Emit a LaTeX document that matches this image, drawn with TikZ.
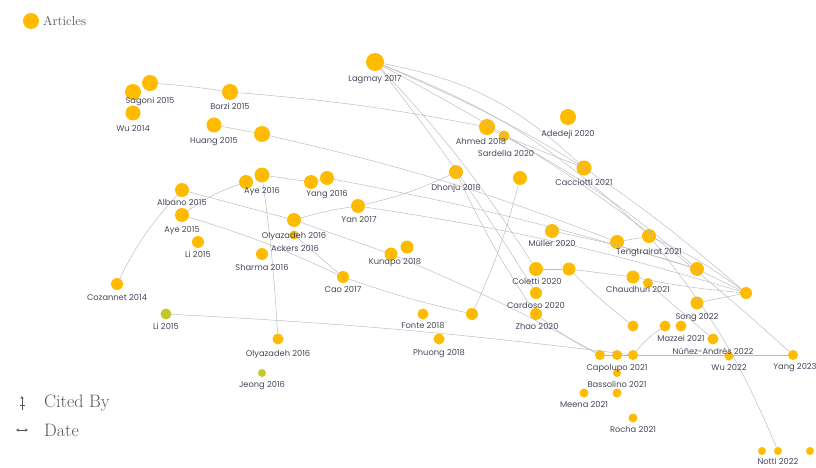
\documentclass[tikz,border=0pt]{standalone}
\usepackage{fontspec}
\newfontfamily\labfont{Poppins}
\usetikzlibrary{arrows.meta}
\definecolor{artcol}{RGB}{255,187,0}
\definecolor{artgreen}{RGB}{196,200,40}
\definecolor{edgecol}{RGB}{185,185,188}
\definecolor{labcol}{RGB}{70,72,92}
\definecolor{legcol}{RGB}{80,84,96}
\tikzset{
  art/.style={circle, fill=artcol, inner sep=0pt, minimum size=#1},
  art/.default=14pt,
  artg/.style={art=#1, fill=artgreen},
  lab/.style={font=\labfont\fontsize{8.3}{9}\selectfont, text=labcol, inner sep=0pt},
  edge/.style={draw=edgecol, line width=0.45pt},
  leg/.style={text=legcol, anchor=west, inner sep=0pt}
}
\begin{document}
\begin{tikzpicture}[x=1pt,y=-1pt]
      \useasboundingbox (0,0) rectangle (816,468);
      % legend
      \node[art=16pt] (legart) at (31,21) {};
      \node[leg, font=\fontsize{13}{14}\selectfont] (legartt) at (43,21) {Articles};
      \coordinate (cbA) at (22,410);
      \coordinate (cbB) at (22,396);
      \coordinate (dtA) at (16,430);
      \coordinate (dtB) at (28,430);
      \draw[legcol, line width=0.8pt, -{Stealth[length=3pt,width=3pt]}] (cbA) -- (cbB);
      \draw[legcol, line width=0.8pt] (19.5,405) -- (24.5,405);
      \draw[legcol, line width=0.8pt, {Stealth[length=3pt,width=3pt]}-{Stealth[length=3pt,width=3pt]}] (dtA) -- (dtB);
      \node[leg, font=\fontsize{18}{19}\selectfont] (legcb) at (44,403) {Cited By};
      \node[leg, font=\fontsize{18}{19}\selectfont] (legdt) at (44,430) {Date};
      % articles
      \node[art=18pt] (lag) at (375,62) {};
      \node[art=16pt] (sag2) at (150,83) {};
      \node[art=16pt] (sag1) at (133,92) {};
      \node[art=15pt] (wu14) at (133,113) {};
      \node[art=16pt] (borzi) at (230,92) {};
      \node[art=15pt] (huang) at (214,125) {};
      \node[art=16pt] (hu2) at (262,134) {};
      \node[art=16pt] (ahmed) at (487,127) {};
      \node[art=11pt] (sard) at (504,136) {};
      \node[art=16pt] (adedeji) at (568,117) {};
      \node[art=15pt] (cacc) at (584,168) {};
      \node[art=14pt] (dhonju) at (456,172) {};
      \node[art=14pt] (n520) at (520,178) {};
      \node[art=14pt] (aye16a) at (246,182) {};
      \node[art=15pt] (aye16b) at (262,175) {};
      \node[art=14pt] (yang16a) at (311,182) {};
      \node[art=14pt] (yang16b) at (327,178) {};
      \node[art=14pt] (yan) at (358,206) {};
      \node[art=14pt] (albano) at (182,190) {};
      \node[art=14pt] (aye15) at (182,215) {};
      \node[art=14pt] (olya) at (294,220) {};
      \node[art=9pt] (ackers) at (294,235) {};
      \node[art=12pt] (li15a) at (198,242) {};
      \node[art=12pt] (sharma) at (262,254) {};
      \node[art=13pt] (kun1) at (391,254) {};
      \node[art=13pt] (kun2) at (407,247) {};
      \node[art=12pt] (cao) at (343,277) {};
      \node[art=12pt] (cozan) at (117,284) {};
      \node[artg=11pt] (li15b) at (166,314) {};
      \node[art=11pt] (fonte) at (423,314) {};
      \node[art=12pt] (n471) at (472,314) {};
      \node[art=11pt] (phuong) at (439,339) {};
      \node[art=11pt] (olyb) at (278,339) {};
      \node[artg=8pt] (jeong) at (262,373) {};
      \node[art=14pt] (muller) at (552,231) {};
      \node[art=14pt] (teng1) at (617,242) {};
      \node[art=14pt] (teng2) at (649,236) {};
      \node[art=14pt] (col1) at (536,269) {};
      \node[art=13pt] (col2) at (569,269) {};
      \node[art=13pt] (chau1) at (633,277) {};
      \node[art=10pt] (chau2) at (648,283) {};
      \node[art=14pt] (n697) at (697,269) {};
      \node[art=12pt] (hub) at (746,293) {};
      \node[art=12pt] (card) at (536,293) {};
      \node[art=12pt] (zhao) at (536,314) {};
      \node[art=13pt] (song) at (697,303) {};
      \node[art=11pt] (maz1) at (633,326) {};
      \node[art=11pt] (maz2) at (665,326) {};
      \node[art=11pt] (maz3) at (681,326) {};
      \node[art=11pt] (nunez) at (713,339) {};
      \node[art=9pt] (wu22) at (729,356) {};
      \node[art=10pt] (cap1) at (600,355) {};
      \node[art=10pt] (cap2) at (617,355) {};
      \node[art=10pt] (cap3) at (633,355) {};
      \node[art=8pt] (bass) at (617,373) {};
      \node[art=9pt] (meena1) at (584,393) {};
      \node[art=9pt] (meena2) at (617,393) {};
      \node[art=9pt] (rocha) at (633,418) {};
      \node[art=10pt] (yang23) at (793,355) {};
      \node[art=8pt] (notti1) at (762,451) {};
      \node[art=8pt] (notti2) at (778,451) {};
      \node[art=8pt] (notti3) at (810,451) {};
      % citations
      \begin{scope}[edge]
        \draw (sag2) to[bend left=2] (borzi);
        \draw (borzi) to[bend left=3] (ahmed);
        \draw (ahmed) to (sard);
        \draw (huang) to (hu2);
        \draw (hu2) to[bend left=4] (teng1);
        \draw (lag) to[bend left=16] (cacc);
        \draw (lag) to[bend left=11] (teng2);
        \draw (lag) to[bend left=9] (hub);
        \draw (lag) to[bend left=7] (yang23);
        \draw (lag) to[bend left=5] (col1);
        \draw (lag) to[bend left=3] (card);
        \draw (sard) to (cacc);
        \draw (sard) to[bend left=6] (n697);
        \draw (dhonju) to[bend right=4] (zhao);
        \draw (n520) to[bend left=5] (n471);
        \draw (cozan) to[bend left=8] (albano);
        \draw (albano) to (olya);
        \draw (olya) to (kun1);
        \draw (olya) to[bend left=4] (yan);
        \draw (yan) to[bend right=6] (dhonju);
        \draw (aye15) to[bend left=8] (aye16a);
        \draw (aye15) to[bend left=4] (cao);
        \draw (ackers) to (cao);
        \draw (cao) to[bend right=3] (n471);
        \draw (aye16b) to (yang16a);
        \draw (yang16a) to (yang16b);
        \draw (yang16b) to[bend left=3] (n697);
        \draw (yan) to[bend left=4] (hub);
        \draw (aye16b) to[bend left=2] (olyb);
        \draw (kun1) to[bend left=3] (cap1);
        \draw (li15b) to[bend left=2] (cap3);
        \draw (cap1) to (cap2);
        \draw (cap2) to (cap3);
        \draw (cap3) to (yang23);
        \draw (cap3) to[bend left=8] (maz2);
        \draw (zhao) to[bend right=6] (cap1);
        \draw (col1) to (col2);
        \draw (col2) to (chau1);
        \draw (chau1) to[bend right=3] (hub);
        \draw (col2) to[bend right=3] (maz1);
        \draw (muller) to[bend left=3] (n697);
        \draw (teng1) to (teng2);
        \draw (teng2) to[bend left=6] (hub);
        \draw (n697) to (hub);
        \draw (song) to (hub);
        \draw (chau2) to (nunez);
        \draw (teng2) to[bend left=8] (notti2);
      \end{scope}
      % labels
      \node[lab] (lagt) at (375,80) {Lagmay 2017};
      \node[lab] (sagt) at (150,101) {Sagoni 2015};
      \node[lab] (wu14t) at (133,128) {Wu 2014};
      \node[lab] (borzit) at (230,106) {Borzi 2015};
      \node[lab] (huangt) at (214,142) {Huang 2015};
      \node[lab] (ahmedt) at (481,142) {Ahmed 2018};
      \node[lab] (sardt) at (506,153) {Sardella 2020};
      \node[lab] (adedejit) at (568,134) {Adedeji 2020};
      \node[lab] (cacct) at (584,182) {Cacciotti 2021};
      \node[lab] (dhonjut) at (456,188) {Dhonju 2018};
      \node[lab] (aye16t) at (262,192) {Aye 2016};
      \node[lab] (yang16t) at (327,195) {Yang 2016};
      \node[lab] (yant) at (359,219) {Yan 2017};
      \node[lab] (albanot) at (182,202) {Albano 2015};
      \node[lab] (aye15t) at (182,231) {Aye 2015};
      \node[lab] (olyat) at (294,236) {Olyazadeh 2016};
      \node[lab] (ackerst) at (295,248) {Ackers 2016};
      \node[lab] (li15at) at (198,254) {Li 2015};
      \node[lab] (sharmat) at (262,267) {Sharma 2016};
      \node[lab] (kunt) at (395,263) {Kunapo 2018};
      \node[lab] (caot) at (343,289) {Cao 2017};
      \node[lab] (cozant) at (117,297) {Cozannet 2014};
      \node[lab] (li15bt) at (166,326) {Li 2015};
      \node[lab] (fontet) at (423,326) {Fonte 2018};
      \node[lab] (phuongt) at (439,354) {Phuong 2018};
      \node[lab] (olybt) at (278,354) {Olyazadeh 2016};
      \node[lab] (jeongt) at (262,386) {Jeong 2016};
      \node[lab] (mullert) at (552,243) {Müller 2020};
      \node[lab] (tengt) at (649,252) {Tengtrairat 2021};
      \node[lab] (colt) at (537,281) {Coletti 2020};
      \node[lab] (chaut) at (638,289) {Chaudhuri 2021};
      \node[lab] (cardt) at (536,305) {Cardoso 2020};
      \node[lab] (zhaot) at (537,326) {Zhao 2020};
      \node[lab] (songt) at (697,318) {Song 2022};
      \node[lab] (mazt) at (681,338) {Mazzei 2021};
      \node[lab] (nunezt) at (713,351) {Núñez-Andrés 2022};
      \node[lab] (wu22t) at (729,367) {Wu 2022};
      \node[lab] (capt) at (617,369) {Capolupo 2021};
      \node[lab] (basst) at (617,384) {Bassolino 2021};
      \node[lab] (meenat) at (584,404) {Meena 2021};
      \node[lab] (rochat) at (633,429) {Rocha 2021};
      \node[lab] (yang23t) at (795,368) {Yang 2023};
      \node[lab] (nottit) at (778,461) {Notti 2022};
\end{tikzpicture}
\end{document}
